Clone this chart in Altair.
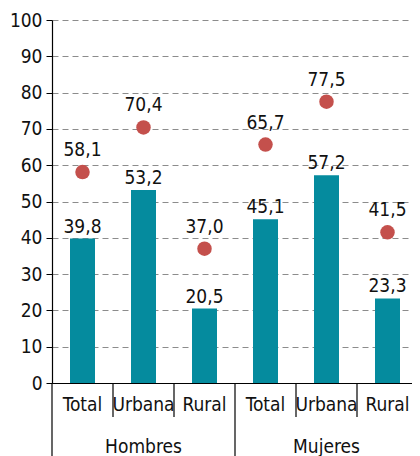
import altair as alt
import pandas as pd

groups = ["Hombres", "Hombres", "Hombres", "Mujeres", "Mujeres", "Mujeres"]
areas = ["Total", "Urbana", "Rural", "Total", "Urbana", "Rural"]
bar_values = [39.8, 53.2, 20.5, 45.1, 57.2, 23.3]
dot_values = [58.1, 70.4, 37.0, 65.7, 77.5, 41.5]
group_names = ["Hombres", "Mujeres"]
y_ticks = list(range(0, 101, 10))

FONT = "DejaVu Sans Condensed, sans-serif"
BAR_COLOR = "#058b9e"
DOT_COLOR = "#c4504c"
W, H = 360, 363
STEP = 61  # pixel width of one category slot

pos = [i + 0.5 for i in range(len(areas))]
df = pd.DataFrame({"pos": pos, "area": areas, "group": groups,
                   "bar": bar_values, "dot": dot_values})

xscale = alt.Scale(domain=[0, W / STEP], nice=False, zero=False, padding=0)
yscale = alt.Scale(domain=[0, 100], nice=False)

x_axis = alt.Axis(
    title=None, ticks=False, labels=False, grid=False,
    domainColor="#000", domainWidth=1.2,
)
y_axis = alt.Axis(
    title=None, values=y_ticks, tickCount=11, labelOverlap=False,
    labelFontSize=19, labelFont=FONT, labelColor="#111",
    domainColor="#000", domainWidth=1.2, tickColor="#000", tickSize=6,
    labelPadding=4, grid=True, gridDash=[6, 4], gridColor="#8c8c8c", gridWidth=1,
)

X = lambda f="pos:Q": alt.X(f, scale=xscale, axis=x_axis)
Y = lambda f: alt.Y(f, scale=yscale, axis=y_axis)

base = alt.Chart(df)

bars = base.mark_bar(size=25, color=BAR_COLOR).encode(x=X(), y=Y("bar:Q"))

bar_text = base.transform_calculate(
    lab="replace(format(datum.bar, '.1f'), '.', ',')"
).mark_text(baseline="alphabetic", dy=-6, fontSize=19, font=FONT, color="#111").encode(
    x=X(), y=Y("bar:Q"), text="lab:N",
)

dots = base.mark_point(filled=True, size=210, color=DOT_COLOR, opacity=1,
                       shape="circle").encode(x=X(), y=Y("dot:Q"))

dot_text = base.transform_calculate(
    lab="replace(format(datum.dot, '.1f'), '.', ',')"
).mark_text(baseline="alphabetic", dy=-16, fontSize=19, font=FONT, color="#111").encode(
    x=X(), y=Y("dot:Q"), text="lab:N",
)

cat_text = base.mark_text(baseline="middle", fontSize=19, font=FONT, color="#111").encode(
    x=X(), y=alt.value(H + 22), text="area:N",
)

sep = base.transform_calculate(
    edge="datum.pos - 0.5", long="datum.area == 'Total'"
)
short_sep = sep.transform_filter("!datum.long").mark_rule(color="#000", strokeWidth=1.2).encode(
    x=X("edge:Q"), y=alt.value(H), y2=alt.value(H + 34),
)
long_sep = sep.transform_filter("datum.long").mark_rule(color="#000", strokeWidth=1.2).encode(
    x=X("edge:Q"), y=alt.value(H), y2=alt.value(H + 80),
)

grp_text = base.transform_filter("datum.area == 'Urbana'").mark_text(
    baseline="middle", fontSize=19, font=FONT, color="#111"
).encode(
    x=X(), y=alt.value(H + 64), text="group:N",
)

chart = alt.layer(
    bars, bar_text, dots, dot_text, cat_text, short_sep, long_sep, grp_text
).properties(
    width=W, height=H,
    autosize=alt.AutoSizeParams(type="none"),
    padding={"left": 44, "top": 12, "right": 0, "bottom": 73},
).configure_view(stroke=None)

chart.save("out.html", embed_options={"renderer": "svg", "actions": False})
